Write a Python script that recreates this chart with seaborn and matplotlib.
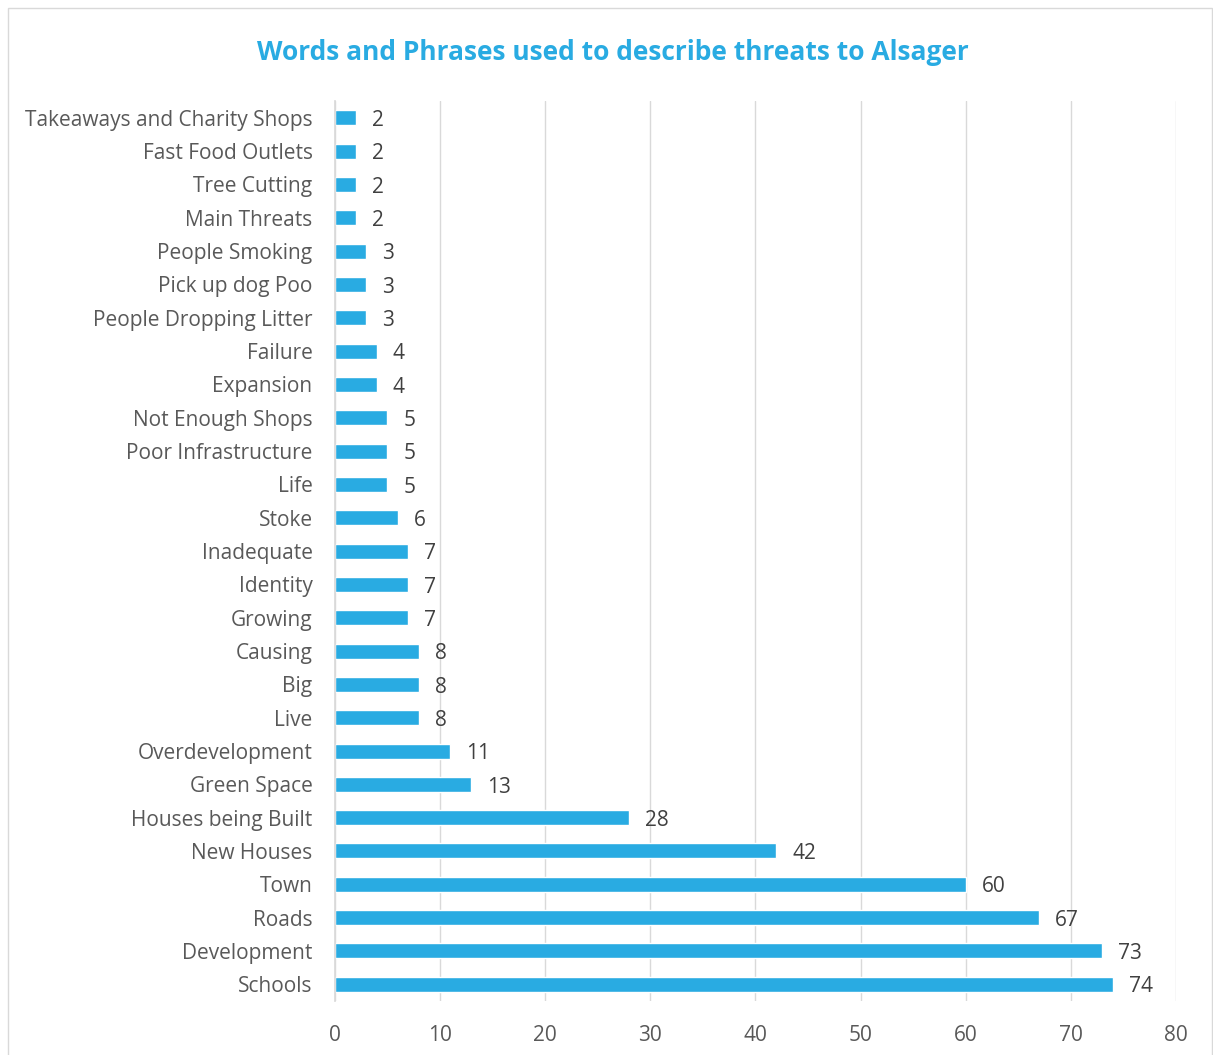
import seaborn as sns
import matplotlib.pyplot as plt
import pandas as pd

labels = ["Takeaways and Charity Shops", "Fast Food Outlets", "Tree Cutting", "Main Threats",
          "People Smoking", "Pick up dog Poo", "People Dropping Litter", "Failure", "Expansion",
          "Not Enough Shops", "Poor Infrastructure", "Life", "Stoke", "Inadequate", "Identity",
          "Growing", "Causing", "Big", "Live", "Overdevelopment", "Green Space",
          "Houses being Built", "New Houses", "Town", "Roads", "Development", "Schools"]
counts = [2, 2, 2, 2, 3, 3, 3, 4, 4, 5, 5, 5, 6, 7, 7, 7, 8, 8, 8, 11, 13, 28, 42, 60, 67, 73, 74]
x_ticks = [0, 10, 20, 30, 40, 50, 60, 70, 80]

df = pd.DataFrame({"phrase": labels, "count": counts})

sns.set_theme(style="white")
plt.rcParams['font.family'] = ['Open Sans', 'DejaVu Sans']

fig = plt.figure(figsize=(12.13, 10.55), dpi=100)
ax = fig.add_axes([0.276, 0.0512, 0.6935, 0.853])

bar_color = "#29ABE2"
sns.barplot(data=df, x="count", y="phrase", color=bar_color, width=0.45,
            saturation=1, ax=ax, orient="h")

ax.set_xlim(0, 80)
ax.set_xticks(x_ticks)
ax.set_ylim(len(labels) - 0.5, -0.5)
ax.xaxis.grid(True, color="#D9D9D9", linewidth=1)
ax.set_axisbelow(True)
for side in ["top", "right", "bottom"]:
    ax.spines[side].set_visible(False)
ax.spines["left"].set_color("#D9D9D9")
ax.set_xlabel("")
ax.set_ylabel("")
ax.tick_params(axis="both", colors="#595959", labelsize=15, length=0)
ax.tick_params(axis="x", pad=17)
ax.tick_params(axis="y", pad=16)

# value labels
for i, v in enumerate(counts):
    ax.text(v + 1.5, i + 0.08, str(v), va="center", ha="left", fontsize=15, color="#404040")

fig.suptitle("Words and Phrases used to describe threats to Alsager", x=0.505, y=0.963,
             fontsize=19, fontweight="bold", color=bar_color)

# light frame round the chart
fig.patches.append(plt.Rectangle((0.007, -0.01), 0.992, 1.002, transform=fig.transFigure,
                                 fill=False, edgecolor="#D9D9D9", linewidth=1))

fig.savefig("out.png", dpi=100)
